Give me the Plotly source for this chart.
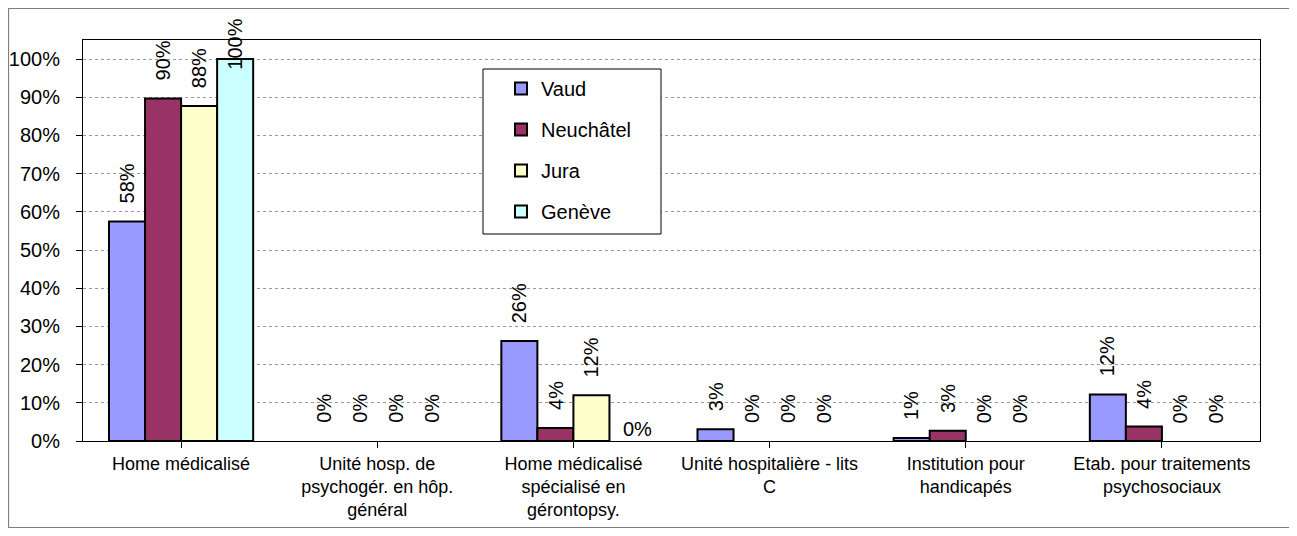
import plotly.graph_objects as go

categories = [
    "Home médicalisé",
    "Unité hosp. de<br>psychogér. en hôp.<br>général",
    "Home médicalisé<br>spécialisé en<br>gérontopsy.",
    "Unité hospitalière - lits<br>C",
    "Institution pour<br>handicapés",
    "Etab. pour traitements<br>psychosociaux",
]
series_names = ["Vaud", "Neuchâtel", "Jura", "Genève"]
vaud = [0.575, 0.0, 0.262, 0.031, 0.008, 0.122]
neuchatel = [0.897, 0.0, 0.034, 0.0, 0.027, 0.038]
jura = [0.877, 0.0, 0.120, 0.0, 0.0, 0.0]
geneve = [1.0, 0.0, 0.0, 0.0, 0.0, 0.0]
label_text = [
    ["58%", "0%", "26%", "3%", "1%", "12%"],
    ["90%", "0%", "4%", "0%", "3%", "4%"],
    ["88%", "0%", "12%", "0%", "0%", "0%"],
    ["100%", "0%", "0%", "0%", "0%", "0%"],
]
colors = ["#9999FF", "#993366", "#FFFFCC", "#CCFFFF"]
values = [vaud, neuchatel, jura, geneve]

# page has an 8px body margin; screen-pixel layout of the reference
OFF = 8
W, H = 1297 - OFF, 536 - OFF
PL, PR, PT, PB = 83, 1260, 40, 441          # plot area in screen px
ML, MR, MT, MB = PL - OFF, 1297 - PR, PT - OFF, 536 - PB
FONT = "Liberation Sans, Arial, sans-serif"


def px2x(px):
    return (px - PL) / (PR - PL)


def py2y(py):
    return (PB - py) / (PB - PT)


fig = go.Figure()
for i, (name, vals) in enumerate(zip(series_names, values)):
    fig.add_trace(go.Bar(
        x=list(range(len(categories))), y=vals, name=name,
        marker=dict(color=colors[i],
                    line=dict(color="black", width=[2 if v > 0 else 0 for v in vals])),
        legendgroup=name,
    ))

bargap = 0.265
nser = len(series_names)
bw = (1 - bargap) / nser
lab_font = dict(family=FONT, size=20, color="black")
annotations = []
for i in range(nser):
    for j in range(len(categories)):
        xpos = j - (1 - bargap) / 2 + bw * (i + 0.5)
        txt = label_text[i][j]
        v = values[i][j]
        if i == 3 and j == 2:
            annotations.append(dict(x=xpos, y=0, xref="x", yref="y", text=txt,
                                    showarrow=False, yanchor="bottom", xshift=10, yshift=-1,
                                    font=lab_font))
        elif v >= 0.99:
            annotations.append(dict(x=xpos, y=py2y(17), xref="x", yref="paper", text=txt,
                                    showarrow=False, yanchor="top", textangle=-90,
                                    font=lab_font))
        else:
            annotations.append(dict(x=xpos, y=v, xref="x", yref="y", text=txt,
                                    showarrow=False, yanchor="bottom", yshift=16, textangle=-90,
                                    font=lab_font))

shapes = [
    # outer chart frame
    dict(type="rect", xref="paper", yref="paper", x0=px2x(8.5), x1=px2x(1290.5),
         y0=py2y(527.5), y1=py2y(8.5),
         line=dict(color="#7f7f7f", width=1.2), layer="below"),
    # legend box
    dict(type="rect", xref="paper", yref="paper", x0=px2x(483), x1=px2x(661), y0=py2y(234), y1=py2y(69),
         line=dict(color="black", width=1), fillcolor="white", layer="above"),
]

fig.update_layout(
    width=W, height=H,
    margin=dict(l=ML, r=MR, t=MT, b=MB, pad=0, autoexpand=False),
    paper_bgcolor="white", plot_bgcolor="white",
    barmode="group", bargap=bargap, bargroupgap=0,
    font=dict(family=FONT, color="black"),
    showlegend=True,
    legend=dict(x=px2x(501), y=py2y(69), xanchor="left", yanchor="top",
                bgcolor="rgba(0,0,0,0)", borderwidth=0, tracegroupgap=12,
                font=dict(family=FONT, size=20, color="black")),
    annotations=annotations,
    shapes=shapes,
)
fig.update_xaxes(
    tickmode="array", tickvals=list(range(len(categories))), ticktext=categories,
    range=[-0.5, len(categories) - 0.5], automargin=False,
    showline=True, linecolor="black", linewidth=1, mirror=True,
    ticks="outside", ticklen=6, tickcolor="black", tickson="boundaries",
    ticklabelstandoff=0,
    showgrid=False, tickfont=dict(family=FONT, size=18, color="black"),
)
fig.update_yaxes(
    range=[0, 1.05], tickvals=[i / 10 for i in range(11)], tickformat=".0%",
    automargin=False,
    showline=True, linecolor="black", linewidth=1, mirror=True,
    ticks="outside", ticklen=6, tickcolor="black", ticklabelstandoff=12,
    showgrid=True, gridcolor="#999999", griddash="dot", gridwidth=1,
    zeroline=False, tickfont=dict(family=FONT, size=20, color="black"),
)

fig.write_html("out.html")
